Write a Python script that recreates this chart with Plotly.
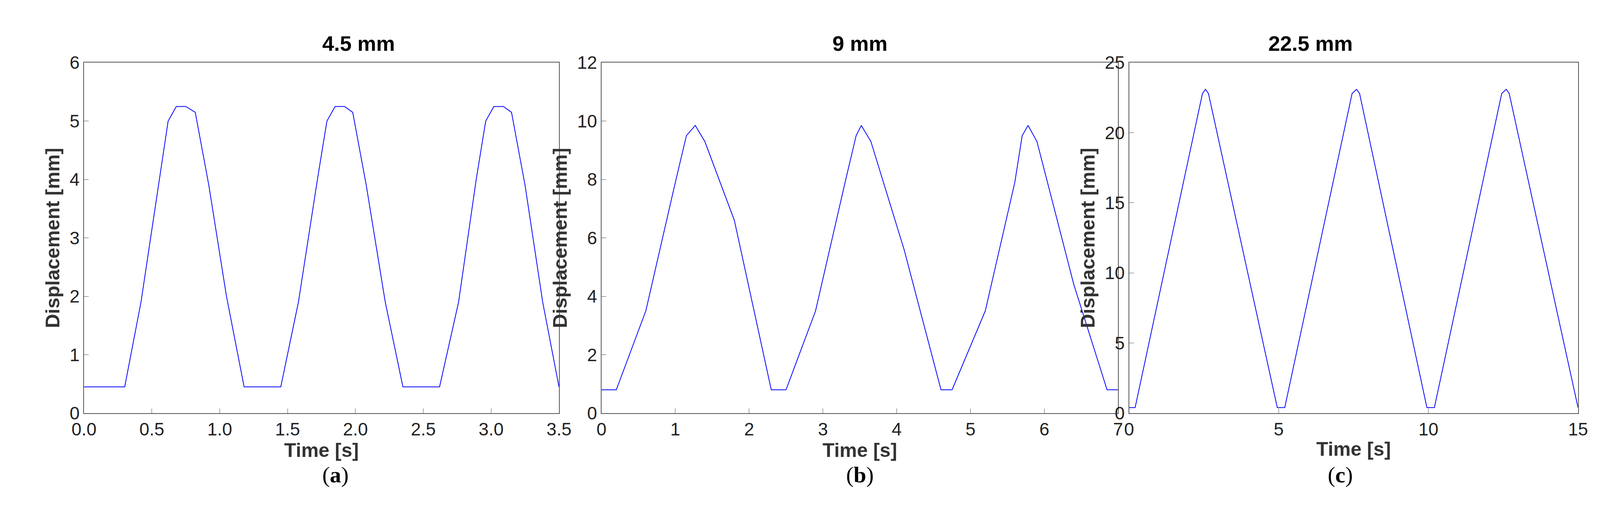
import plotly.graph_objects as go

# Panel (a) 4.5 mm: breakpoints
t_a = [0.0, 0.30, 0.42, 0.55, 0.62, 0.68, 0.75, 0.82, 0.92, 1.05, 1.18, 1.30, 1.45, 1.58, 1.72, 1.79, 1.85, 1.92, 1.98, 2.08, 2.22, 2.35, 2.50, 2.62, 2.76, 2.89, 2.96, 3.02, 3.09, 3.15, 3.25, 3.38, 3.50]
d_a = [0.45, 0.45, 1.9, 3.9, 5.0, 5.25, 5.25, 5.15, 3.9, 2.0, 0.45, 0.45, 0.45, 1.9, 4.0, 5.0, 5.25, 5.25, 5.15, 3.9, 1.9, 0.45, 0.45, 0.45, 1.9, 4.0, 5.0, 5.25, 5.25, 5.15, 3.9, 1.9, 0.45]
# Panel (b) 9 mm
t_b = [0.0, 0.2, 0.6, 1.0, 1.15, 1.27, 1.4, 1.8, 2.3, 2.5, 2.9, 3.3, 3.45, 3.52, 3.65, 4.1, 4.6, 4.75, 5.2, 5.6, 5.7, 5.78, 5.9, 6.4, 6.85, 7.0]
d_b = [0.8, 0.8, 3.5, 7.9, 9.5, 9.85, 9.3, 6.6, 0.8, 0.8, 3.5, 7.9, 9.5, 9.85, 9.3, 5.6, 0.8, 0.8, 3.5, 7.9, 9.5, 9.85, 9.3, 4.4, 0.8, 0.8]
# Panel (c) 22.5 mm
t_c = [0.0, 0.2, 2.45, 2.55, 2.65, 4.95, 5.2, 7.45, 7.6, 7.7, 9.95, 10.2, 12.45, 12.6, 12.7, 15.0]
d_c = [0.4, 0.4, 22.8, 23.1, 22.8, 0.4, 0.4, 22.8, 23.1, 22.8, 0.4, 0.4, 22.8, 23.1, 22.8, 0.4]

titles = ["4.5 mm", "9 mm", "22.5 mm"]
labels = ["a", "b", "c"]
x_ranges = [[0, 3.5], [0, 7], [0, 15]]
x_ticks = [[0, 0.5, 1, 1.5, 2, 2.5, 3, 3.5], [0, 1, 2, 3, 4, 5, 6, 7], [0, 5, 10, 15]]
x_ticktext = [["0.0", "0.5", "1.0", "1.5", "2.0", "2.5", "3.0", "3.5"], None, None]
y_ranges = [[0, 6], [0, 12], [0, 25]]
y_dticks = [1, 2, 5]

xdoms = [[0.0434, 0.345], [0.372, 0.700], [0.707, 0.992]]
ydom = [0.19, 0.90]

fig = go.Figure()
data = [(t_a, d_a), (t_b, d_b), (t_c, d_c)]
for i, (t, d) in enumerate(data):
    sx = "" if i == 0 else str(i + 1)
    fig.add_trace(go.Scatter(x=t, y=d, mode="lines", line=dict(color="#0000ff", width=2),
                             xaxis="x" + sx, yaxis="y" + sx, showlegend=False))
    axstyle = dict(showline=True, linecolor="#555", linewidth=2, mirror=True, ticks="inside",
                   ticklen=12, tickcolor="#555", showgrid=False, zeroline=False,
                   tickfont=dict(family="Liberation Sans Narrow, Arial, sans-serif", size=46, color="#222"))
    xa = dict(axstyle, domain=xdoms[i], range=x_ranges[i], tickvals=x_ticks[i], anchor="y" + sx,
              title=dict(text="<b>Time [s]</b>", font=dict(family="Arial, Liberation Sans", size=50, color="#333"), standoff=8))
    if x_ticktext[i]:
        xa["ticktext"] = x_ticktext[i]
    ya = dict(axstyle, domain=ydom, range=y_ranges[i], dtick=y_dticks[i], anchor="x" + sx,
              title=dict(text="<b>Displacement [mm]</b>", font=dict(family="Arial, Liberation Sans", size=50, color="#333"), standoff=10))
    fig.update_layout(**{"xaxis" + sx: xa, "yaxis" + sx: ya})
    cx = (xdoms[i][0] + xdoms[i][1]) / 2
    fig.add_annotation(x=cx, y=0.964, xref="paper", yref="paper", text="<b>" + titles[i] + "</b>",
                       showarrow=False, font=dict(family="Liberation Sans Narrow, Arial", size=54, color="black"))
    fig.add_annotation(x=cx, y=0.038, xref="paper", yref="paper",
                       text="(<b>" + labels[i] + "</b>)", showarrow=False,
                       font=dict(family="Liberation Serif, Times New Roman", size=58, color="black"))

fig.update_layout(autosize=True, margin=dict(l=0, r=0, t=0, b=0),
                  paper_bgcolor="white", plot_bgcolor="white")
fig.write_html("out.html", default_width="100vw", default_height="100vh")
